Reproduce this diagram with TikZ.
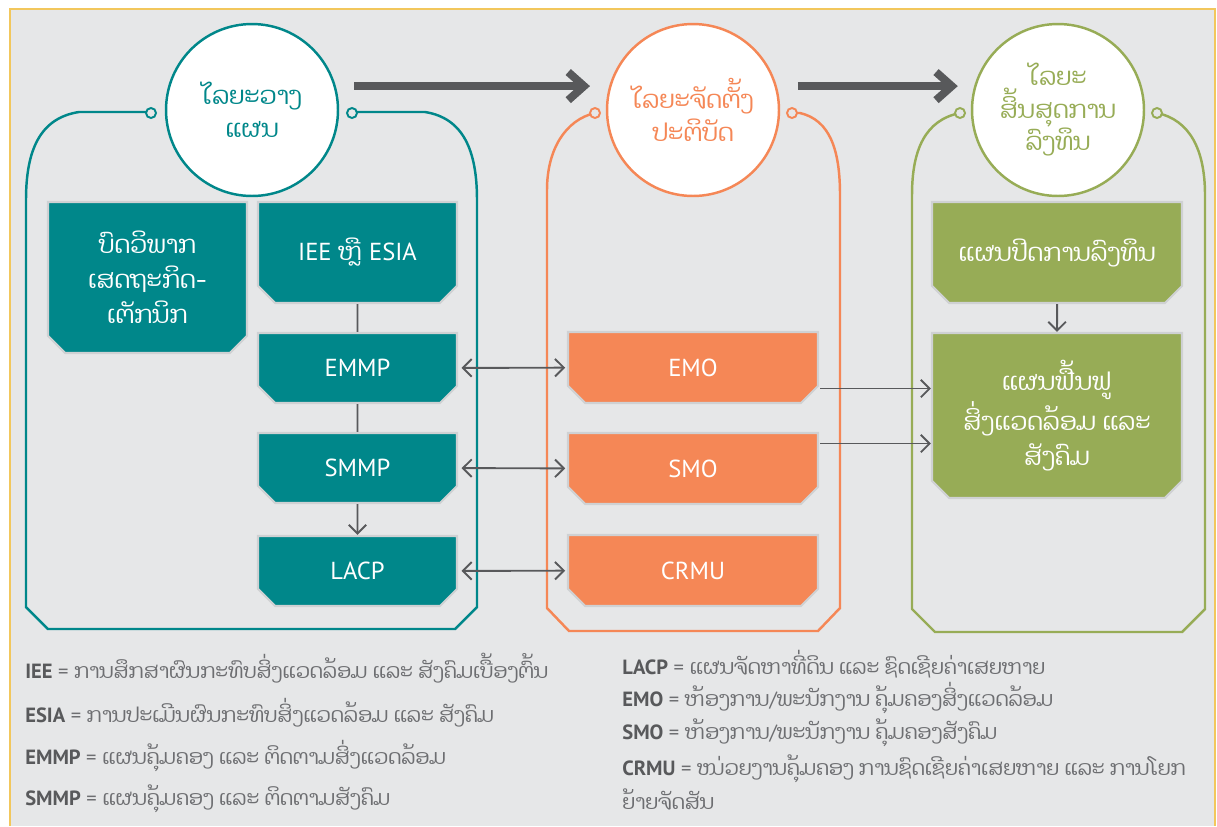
\documentclass[tikz,border=0pt]{standalone}
\usepackage{fontspec}
\setmainfont{PT Sans}
\newfontfamily\laofont[Script=Lao]{Dhyana}
\usepackage{xcolor}
\usepackage{tikz}
\usetikzlibrary{shapes.misc}
\usetikzlibrary{arrows.meta}
\usetikzlibrary{calc}

\definecolor{planteal}{HTML}{00878A}
\definecolor{doorange}{HTML}{F58756}
\definecolor{endgreen}{HTML}{97AC56}
\definecolor{pagegray}{HTML}{E6E7E8}
\definecolor{pagegold}{HTML}{F2C75C}
\definecolor{arrowgray}{HTML}{58595B}
\definecolor{boxedge}{HTML}{CFD1D3}
\definecolor{notegray}{HTML}{6D6E71}

\tikzset{
	phase/.style={circle, fill=white, line width=1.4pt, minimum size=3.44cm, inner sep=0pt, align=center, font=\laofont\fontsize{14}{18.5}\selectfont},
	frame/.style={line width=1.4pt},
	knob/.style={fill=pagegray, line width=1.1pt},
	stepbox/.style={chamfered rectangle, chamfered rectangle corners={south west,south east}, chamfered rectangle xsep=0.17cm, chamfered rectangle ysep=0.17cm, draw=boxedge, line width=1.2pt, text=white, align=center, inner sep=0pt, font=\fontsize{14}{20}\selectfont},
	laobox/.style={stepbox, font=\laofont\fontsize{14}{20}\selectfont},
	link/.style={draw=arrowgray, line width=1.1pt},
	bigarrow/.style={draw=arrowgray, line width=4.5pt, -{Straight Barb[length=9pt,width=16pt]}},
	note/.style={anchor=west, text=notegray, inner sep=0pt, font=\fontsize{11.7}{19}\selectfont},
}

\begin{document}
\begin{tikzpicture}[x=0.02cm, y=-0.02cm, >={Straight Barb[length=5pt,width=10pt]}]
	\useasboundingbox (0,0) rectangle (1217,826);
	
	% page
	\fill[pagegray] (10,9) rectangle (1216,826);
	\draw[pagegold, line width=1.2pt] (10,826) -- (10,9) -- (1215,9) -- (1215,826);
	
	% frames round each phase
	\draw[planteal, frame] (151,112) -- (79,112) .. controls (40,118) and (26,150) .. (26,200) -- (26,607) -- (48,629) -- (455,629) -- (477,607) -- (477,200) .. controls (477,150) and (463,118) .. (425,112) -- (352,112);
	\draw[doorange, frame] (595,113) .. controls (565,120) and (547,150) .. (547,190) -- (547,608) -- (569,631) -- (818,631) -- (840,608) -- (840,195) .. controls (840,150) and (830,120) .. (800,113) -- (792,113);
	\draw[endgreen, frame] (960,113) .. controls (925,120) and (912,150) .. (912,195) -- (912,609) -- (935,632) -- (1182,632) -- (1205,609) -- (1205,195) .. controls (1205,150) and (1190,120) .. (1157,113);
	\foreach \kx/\kc in {151/planteal, 352/planteal, 595/doorange, 792/doorange, 960/endgreen, 1157/endgreen} {
		\draw[knob, draw=\kc] (\kx,113) circle (5);
	}
	
	% phases
	\node[phase, draw=planteal, text=planteal] (planning) at (252,110) {ໄລຍະວາງ\\ແຜນ};
	\node[phase, draw=doorange, text=doorange] (implementing) at (693,110) {ໄລຍະຈັດຕັ້ງ\\ປະຕິບັດ};
	\node[phase, draw=endgreen, text=endgreen] (closing) at (1058,110) {ໄລຍະ\\ສິ້ນສຸດການ\\ລົງທຶນ};
	\draw[bigarrow] ([xshift=8.5pt,yshift=13.6pt]planning.east) -- ([xshift=-9pt,yshift=13.6pt]implementing.west);
	\draw[bigarrow] ([xshift=10pt,yshift=13.6pt]implementing.east) -- ([xshift=-7.4pt,yshift=13.6pt]closing.west);
	
	% planning boxes
	\node[laobox, fill=planteal, minimum width=3.98cm, minimum height=3.02cm] (feasibility) at (147.5,277.5) {ບົດວິພາກ\\ເສດຖະກິດ-\\ເຕັກນິກ};
	\node[stepbox, fill=planteal, minimum width=3.98cm, minimum height=2.02cm] (iee) at (357.5,252.5) {IEE {\laofont ຫຼື} ESIA};
	\node[stepbox, fill=planteal, minimum width=3.98cm, minimum height=1.4cm] (emmp) at (357.5,368) {EMMP};
	\node[stepbox, fill=planteal, minimum width=3.98cm, minimum height=1.4cm] (smmp) at (357.5,468) {SMMP};
	\node[stepbox, fill=planteal, minimum width=3.98cm, minimum height=1.4cm] (lacp) at (357.5,571) {LACP};
	\draw[link] (iee) -- (emmp);
	\draw[link] (emmp) -- (smmp);
	\draw[link, ->] (smmp) -- (lacp);
	
	% implementing boxes
	\node[stepbox, fill=doorange, minimum width=5cm, minimum height=1.42cm] (emo) at (693,367.5) {EMO};
	\node[stepbox, fill=doorange, minimum width=5cm, minimum height=1.42cm] (smo) at (693,468.5) {SMO};
	\node[stepbox, fill=doorange, minimum width=5cm, minimum height=1.42cm] (crmu) at (693,570.5) {CRMU};
	\draw[link, <->, shorten <=2pt, shorten >=1pt] (emmp) -- (emo);
	\draw[link, <->, shorten <=2pt, shorten >=1pt] (smmp) -- (smo);
	\draw[link, <->, shorten <=2pt, shorten >=1pt] (lacp) -- (crmu);
	
	% closing boxes
	\node[laobox, fill=endgreen, minimum width=5cm, minimum height=2.02cm] (closure) at (1057,252.5) {ແຜນປິດການລົງທຶນ};
	\node[laobox, fill=endgreen, minimum width=5cm, minimum height=3.3cm] (restore) at (1057,415.5) {ແຜນຟື້ນຟູ\\ສິ່ງແວດລ້ອມ ແລະ\\ສັງຄົມ};
	\draw[link, ->] (closure) -- (restore);
	\draw[link, ->] ($(emo.east)+(1,21)$) coordinate (e1) -- (e1 -| restore.west);
	\draw[link, ->] ($(smo.east)+(1,-25)$) coordinate (s1) -- (s1 -| restore.west);
	
	% abbreviations
	\node[note] (n-iee) at (25,668) {\textbf{\color{arrowgray}IEE} = {\laofont ການສຶກສາຜົນກະທົບສິ່ງແວດລ້ອມ ແລະ ສັງຄົມເບື້ອງຕົ້ນ}};
	\node[note] (n-esia) at (25,713) {\textbf{\color{arrowgray}ESIA} = {\laofont ການປະເມີນຜົນກະທົບສິ່ງແວດລ້ອມ ແລະ ສັງຄົມ}};
	\node[note] (n-emmp) at (25,756) {\textbf{\color{arrowgray}EMMP} = {\laofont ແຜນຄຸ້ມຄອງ ແລະ ຕິດຕາມສິ່ງແວດລ້ອມ}};
	\node[note] (n-smmp) at (25,799) {\textbf{\color{arrowgray}SMMP} = {\laofont ແຜນຄຸ້ມຄອງ ແລະ ຕິດຕາມສັງຄົມ}};
	
	\node[note] (n-lacp) at (622,664) {\textbf{\color{arrowgray}LACP} = {\laofont ແຜນຈັດຫາທີ່ດິນ ແລະ ຊົດເຊີຍຄ່າເສຍຫາຍ}};
	\node[note] (n-emo) at (622,698) {\textbf{\color{arrowgray}EMO} = {\laofont ຫ້ອງການ}/{\laofont ພະນັກງານ ຄຸ້ມຄອງສິ່ງແວດລ້ອມ}};
	\node[note] (n-smo) at (622,733) {\textbf{\color{arrowgray}SMO} = {\laofont ຫ້ອງການ}/{\laofont ພະນັກງານ ຄຸ້ມຄອງສັງຄົມ}};
	\node[note, align=left] (n-crmu) at (622,782.5) {\textbf{\color{arrowgray}CRMU} = {\laofont ໜ່ວຍງານຄຸ້ມຄອງ ການຊົດເຊີຍຄ່າເສຍຫາຍ ແລະ ການໂຍກ}\\{\laofont ຍ້າຍຈັດສັນ}};
	
\end{tikzpicture}
\end{document}
